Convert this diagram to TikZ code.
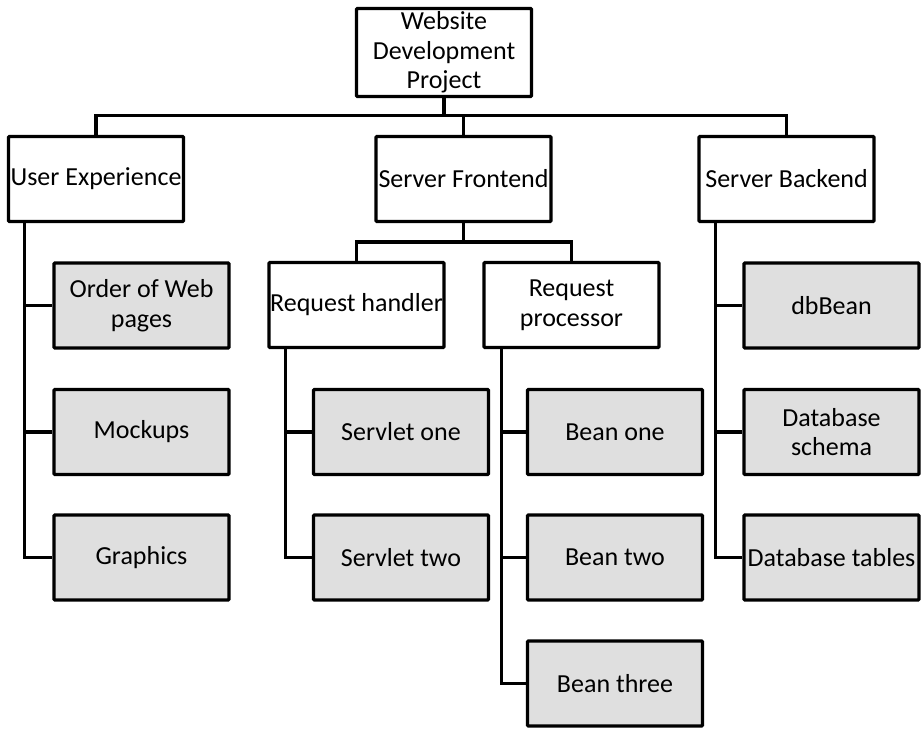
\documentclass[tikz,border=0pt]{standalone}
\usepackage{fontspec}
\setmainfont{Carlito}
\usepackage{tikz}
\usetikzlibrary{positioning,calc}

\tikzset{
  task/.style = {draw, line width = 3.4pt, rounded corners = 1pt, fill = white,
    minimum width = 175pt, minimum height = 85pt, inner sep = 1pt,
    align = center, font = \fontsize{26}{29.5}\selectfont},
  subtask/.style = {task, fill = gray!25},
  link/.style = {line width = 3.2pt}
}

\begin{document}
\begin{tikzpicture}[x = 1pt, y = -1pt]
  \useasboundingbox (0,0) rectangle (923,729);

  % project box
  \node[task, minimum height = 88pt] (proj) at (444,52.5)
    {Website\\Development\\Project};

  % first level
  \node[task] (ux) at (96,179)    {User Experience};
  \node[task] (sf) at (463.5,179) {Server Frontend};
  \node[task] (sb) at (786.5,179) {Server Backend};

  % second level below frontend
  \node[task] (rh) at (356.5,305) {Request handler};
  \node[task] (rp) at (571.5,305) {Request\\processor};

  % user experience items
  \node[subtask] (order)    at (141.5,305.5) {Order of Web\\pages};
  \node[subtask] (mockups)  at (141.5,432)   {Mockups};
  \node[subtask] (graphics) at (141.5,557.5) {Graphics};

  % request handler items
  \node[subtask] (servone) at (401,432)   {Servlet one};
  \node[subtask] (servtwo) at (401,557.5) {Servlet two};

  % request processor items
  \node[subtask] (beanone)   at (615,432)   {Bean one};
  \node[subtask] (beantwo)   at (615,557.5) {Bean two};
  \node[subtask] (beanthree) at (615,683.5) {Bean three};

  % server backend items
  \node[subtask] (dbbean)   at (831.5,305.5) {dbBean};
  \node[subtask] (dbschema) at (831.5,432)   {Database\\schema};
  \node[subtask] (dbtables) at (831.5,557.5) {Database tables};

  % bars between levels
  \coordinate (topbar) at (444,115.5);
  \coordinate (midbar) at (463.5,242);

  \draw[link] (proj.south) -- (topbar);
  \draw[link] (ux.north) |- (topbar) -| (sb.north);
  \draw[link] (sf.north) -- (sf.north |- topbar);

  \draw[link] (sf.south) -- (midbar);
  \draw[link] (rh.north) |- (midbar) -| (rp.north);

  % spines down to the items
  \foreach \item in {order, mockups, graphics}
    \draw[link] ([xshift = 18pt]ux.south west) |- (\item.west);
  \foreach \item in {servone, servtwo}
    \draw[link] ([xshift = 18pt]rh.south west) |- (\item.west);
  \foreach \item in {beanone, beantwo, beanthree}
    \draw[link] ([xshift = 19pt]rp.south west) |- (\item.west);
  \foreach \item in {dbbean, dbschema, dbtables}
    \draw[link] ([xshift = 18pt]sb.south west) |- (\item.west);
\end{tikzpicture}
\end{document}
